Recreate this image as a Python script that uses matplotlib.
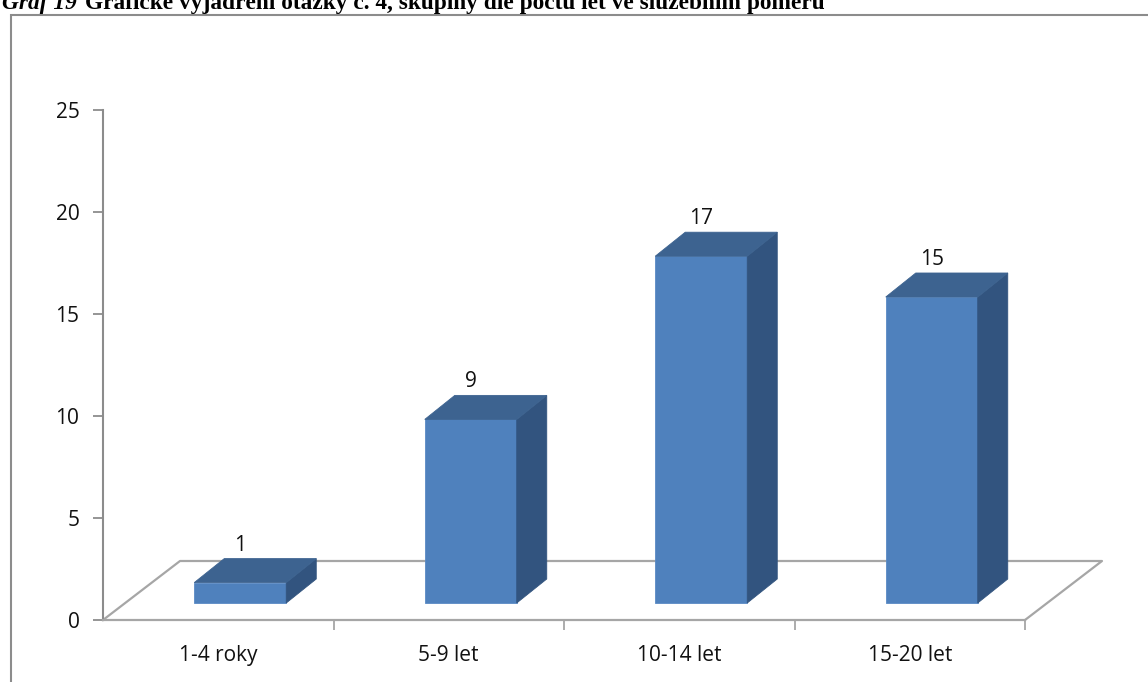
import matplotlib.pyplot as plt
from matplotlib.patches import Polygon, Rectangle

# data
kategorie = ['1-4 roky', '5-9 let', '10-14 let', '15-20 let']
hodnoty = [1, 9, 17, 15]
y_ticks = [0, 5, 10, 15, 20, 25]

W, H = 1148, 682
fig = plt.figure(figsize=(W / 100, H / 100), dpi=100)

# ramecek grafu
fig.patches.append(Rectangle((11 / W, -0.1), 1.2, 1.1 - 15 / H, transform=fig.transFigure,
                             fill=False, edgecolor='#8c8c8c', linewidth=1.5))

# nadpis (oriznuty nahore jako v predloze)
fig.text(2 / W, 1 - 9 / H, 'Graf 19', fontsize=16.8, fontweight='bold', fontstyle='italic',
         family='Liberation Serif', va='baseline')
fig.text(85 / W, 1 - 9 / H, 'Grafické vyjádření otázky č. 4, skupiny dle počtu let ve služebním poměru',
         fontsize=16.8, fontweight='bold', family='Liberation Serif', va='baseline')

ax = fig.add_axes([103 / W, (H - 620) / H, (1025 - 103) / W, (620 - 110) / H])
ax.set_xlim(0, 4)
ax.set_ylim(0, 25)

seda = '#a6a6a6'
# hloubka podlahy v datovych jednotkach
px_x = 922 / 4
px_y = 510 / 25
floor_dx, floor_dy = 77 / px_x, 59 / px_y
# podlaha
ax.plot([0, floor_dx, 4 + floor_dx, 4], [0, floor_dy, floor_dy, 0], color=seda, lw=1.6, clip_on=False)

# 3D sloupce
base_dx, base_dy = 22 / px_x, 17 / px_y
d_dx, d_dy = 30 / px_x, 24 / px_y
sirka = 92 / px_x
for i, v in enumerate(hodnoty):
    x0 = i + 0.5 + base_dx - sirka / 2
    x1 = x0 + sirka
    y0 = base_dy
    y1 = base_dy + v
    # predni stena
    ax.add_patch(Polygon([(x0, y0), (x1, y0), (x1, y1), (x0, y1)], closed=True,
                         facecolor='#4f81bd', edgecolor='#5a8ac4', lw=0.6, clip_on=False, zorder=3))
    # bocni stena
    ax.add_patch(Polygon([(x1, y0), (x1 + d_dx, y0 + d_dy), (x1 + d_dx, y1 + d_dy), (x1, y1)], closed=True,
                         facecolor='#32547f', edgecolor='#32547f', lw=0.6, clip_on=False, zorder=3))
    # horni stena
    ax.add_patch(Polygon([(x0, y1), (x1, y1), (x1 + d_dx, y1 + d_dy), (x0 + d_dx, y1 + d_dy)], closed=True,
                         facecolor='#3d6390', edgecolor='#3d6390', lw=0.6, clip_on=False, zorder=3))
    ax.text((x0 + x1) / 2, y1 + d_dy + 3 / px_y, str(v), ha='center', va='bottom',
            fontsize=15, family='Open Sans', color='#111111')

# osy
for s in ['top', 'right']:
    ax.spines[s].set_visible(False)
ax.spines['left'].set_color('#8c8c8c')
ax.spines['bottom'].set_color(seda)
ax.spines['left'].set_linewidth(1.5)
ax.spines['bottom'].set_linewidth(1.6)

ax.set_yticks(y_ticks)
ax.set_yticklabels([str(t) for t in y_ticks], fontsize=15, family='Open Sans', color='#111111')
ax.tick_params(axis='y', length=7, width=1.3, color='#8c8c8c', pad=10)

ax.set_xticks([0.5, 1.5, 2.5, 3.5])
ax.set_xticklabels(kategorie, fontsize=15, family='Open Sans', color='#111111')
ax.set_xticks([1, 2, 3, 4], minor=True)
ax.tick_params(axis='x', which='major', length=0, pad=18)
ax.tick_params(axis='x', which='minor', length=7, width=1.3, color=seda)

fig.savefig('out.png', dpi=100)
